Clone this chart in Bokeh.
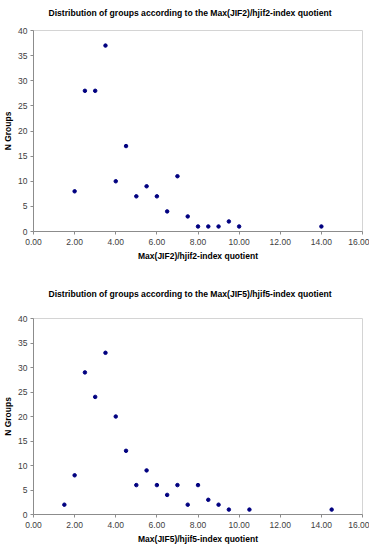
from bokeh.plotting import figure
from bokeh.layouts import column
from bokeh.models import FixedTicker, NumeralTickFormatter, Range1d, Title
from bokeh.embed import file_html
from bokeh.resources import INLINE

# Chart 1: Max(JIF2)/hjif2-index quotient
x1 = [2.0, 2.5, 3.0, 3.5, 4.0, 4.5, 5.0, 5.5, 6.0, 6.5, 7.0, 7.5, 8.0, 8.5, 9.0, 9.5, 10.0, 14.0]
y1 = [8, 28, 28, 37, 10, 17, 7, 9, 7, 4, 11, 3, 1, 1, 1, 2, 1, 1]

# Chart 2: Max(JIF5)/hjif5-index quotient
x2 = [1.5, 2.0, 2.5, 3.0, 3.5, 4.0, 4.5, 5.0, 5.5, 6.0, 6.5, 7.0, 7.5, 8.0, 8.5, 9.0, 9.5, 10.5, 14.5]
y2 = [2, 8, 29, 24, 33, 20, 13, 6, 9, 6, 4, 6, 2, 6, 3, 2, 1, 1, 1]

titles = ["Distribution of groups according to the Max(JIF2)/hjif2-index quotient",
          "Distribution of groups according to the Max(JIF5)/hjif5-index quotient"]
xlabels = ["Max(JIF2)/hjif2-index quotient", "Max(JIF5)/hjif5-index quotient"]
ylabel = "N Groups"
xticks = [0, 2, 4, 6, 8, 10, 12, 14, 16]
yticks = [0, 5, 10, 15, 20, 25, 30, 35, 40]

FONT = "Liberation Sans"


def make(x, y, title, xlabel, height, top, standoff, pad):
    p = figure(width=369, height=height, output_backend="svg", toolbar_location=None,
               x_range=Range1d(0, 16), y_range=Range1d(0, 40),
               min_border_left=0, min_border_right=7, min_border_top=top,
               min_border_bottom=30)
    t = Title(text=title, align="left", text_font=FONT, text_font_size="8.6px",
              text_font_style="bold", text_color="#000000", offset=15, standoff=standoff,
              padding=pad)
    p.add_layout(t, "above")
    p.scatter(x, y, size=3.5, color="#000080")
    p.xgrid.visible = False
    p.ygrid.visible = False
    p.outline_line_color = "#d4d4d4"
    p.outline_line_width = 1
    for ax in (p.xaxis[0], p.yaxis[0]):
        ax.axis_line_color = "#8c8c8c"
        ax.major_tick_line_color = "#8c8c8c"
        ax.major_tick_in = 0
        ax.major_tick_out = 3
        ax.minor_tick_line_color = None
        ax.major_label_text_font = FONT
        ax.major_label_text_font_size = "8.5px"
        ax.major_label_text_color = "#404040"
        ax.axis_label_text_font = FONT
        ax.axis_label_text_font_size = "8.5px"
        ax.axis_label_text_font_style = "bold"
        ax.axis_label_text_color = "#000000"
    p.xaxis.ticker = FixedTicker(ticks=xticks)
    p.xaxis.formatter = NumeralTickFormatter(format="0.00")
    p.yaxis.ticker = FixedTicker(ticks=yticks)
    p.xaxis.axis_label = xlabel
    p.yaxis.axis_label = ylabel
    p.xaxis.major_label_standoff = 4
    p.xaxis.axis_label_standoff = 3
    p.yaxis.major_label_standoff = 3
    p.yaxis.axis_label_standoff = 2
    return p


p1 = make(x1, y1, titles[0], xlabels[0], 263, 30, 0, (0, 0, 0, 13))
p2 = make(x2, y2, titles[1], xlabels[1], 283, 55, 40, 0)

layout = column(p1, p2)
open("out.html", "w").write(file_html(layout, INLINE))
